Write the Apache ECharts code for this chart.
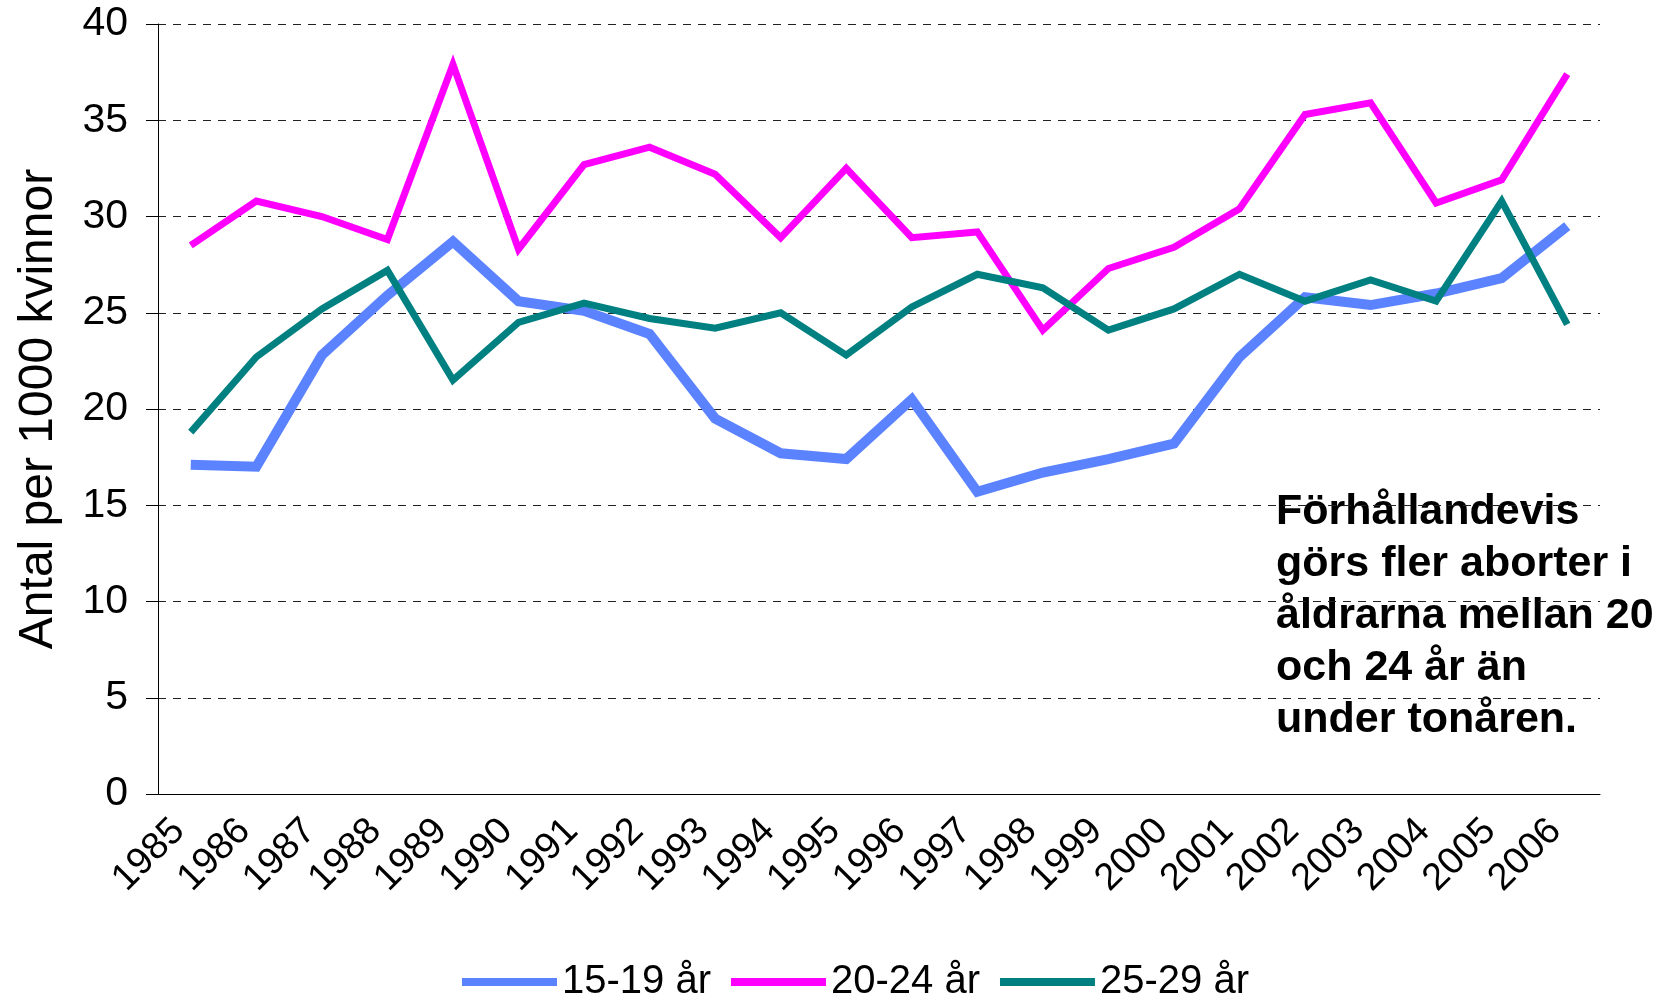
<!DOCTYPE html>
<html>
<head>
<meta charset="utf-8">
<script src="https://cdn.jsdelivr.net/npm/echarts@6/dist/echarts.min.js"></script>
<style>
	html, body { margin: 0; padding: 0; background: #fff; }
	#chart { width: 1664px; height: 996px; }
</style>
</head>
<body>
<div id="chart"></div>
<script>
var years = ['1985', '1986', '1987', '1988', '1989', '1990', '1991', '1992', '1993', '1994', '1995',
	'1996', '1997', '1998', '1999', '2000', '2001', '2002', '2003', '2004', '2005', '2006'];
var seriesNames = ['15-19 år', '20-24 år', '25-29 år'];
var age15_19 = [17.1, 17.0, 22.8, 25.9, 28.7, 25.6, 25.1, 23.9, 19.5, 17.7, 17.4,
	20.5, 15.7, 16.7, 17.4, 18.2, 22.7, 25.8, 25.4, 26.0, 26.8, 29.5];
var age20_24 = [28.5, 30.8, 30.0, 28.8, 37.9, 28.3, 32.7, 33.6, 32.2, 28.9, 32.5,
	28.9, 29.2, 24.1, 27.3, 28.4, 30.4, 35.3, 35.9, 30.7, 31.9, 37.4];
var age25_29 = [18.8, 22.7, 25.2, 27.2, 21.5, 24.5, 25.5, 24.7, 24.2, 25.0, 22.8,
	25.3, 27.0, 26.3, 24.1, 25.2, 27.0, 25.6, 26.7, 25.6, 30.8, 24.4];
var noteLines = ['Förhållandevis', 'görs fler aborter i', 'åldrarna mellan 20', 'och 24 år än', 'under tonåren.'];

var fontName = '"Liberation Sans", Arial, sans-serif';
var chart = echarts.init(document.getElementById('chart'));

//linjeserie
function lineSeries(name, data, color, width) {
	return {
		name: name,
		type: 'line',
		data: data,
		symbol: 'none',
		animation: false,
		lineStyle: {
			color: color,
			width: width,
			join: 'miter'
		},
		itemStyle: {
			color: color
		}
	};
}

var option = {
	backgroundColor: '#fff',
	animation: false,
	grid: {
		left: 158,
		right: 64,
		top: 24,
		bottom: 202
	},
	legend: {
		left: 457,
		top: 957,
		icon: 'rect',
		itemWidth: 95,
		itemHeight: 8,
		itemGap: 20,
		data: seriesNames,
		textStyle: {
			fontFamily: fontName,
			fontSize: 40,
			color: '#000'
		}
	},
	xAxis: {
		type: 'category',
		data: years,
		boundaryGap: true,
		axisLine: {
			lineStyle: { color: '#000', width: 1 }
		},
		axisTick: {
			length: 11,
			lineStyle: { color: '#000' }
		},
		axisLabel: {
			rotate: 45,
			margin: 19,
			interval: 0,
			padding: [0, 17, 0, 0],
			fontFamily: fontName,
			fontSize: 38,
			color: '#000'
		}
	},
	yAxis: {
		type: 'value',
		min: 0,
		max: 40,
		interval: 5,
		name: 'Antal per 1000 kvinnor',
		nameLocation: 'middle',
		nameGap: 95,
		nameTextStyle: {
			fontFamily: fontName,
			fontSize: 48,
			color: '#000'
		},
		axisLine: {
			show: true,
			lineStyle: { color: '#000', width: 1 }
		},
		axisTick: {
			show: true,
			length: 12,
			lineStyle: { color: '#000' }
		},
		axisLabel: {
			margin: 30,
			fontFamily: fontName,
			fontSize: 41,
			color: '#000'
		},
		splitLine: {
			show: true,
			lineStyle: {
				color: '#222',
				width: 1,
				type: [8, 7]
			}
		}
	},
	graphic: [{
		type: 'text',
		left: 1276,
		top: 486,
		style: {
			text: noteLines.join('\n'),
			font: 'bold 43px ' + fontName,
			lineHeight: 52,
			fill: '#000'
		}
	}],
	series: [
		lineSeries(seriesNames[0], age15_19, '#5b82ff', 10),
		lineSeries(seriesNames[1], age20_24, '#ff00ff', 7),
		lineSeries(seriesNames[2], age25_29, '#008080', 7)
	]
};
chart.setOption(option);
</script>
</body>
</html>
